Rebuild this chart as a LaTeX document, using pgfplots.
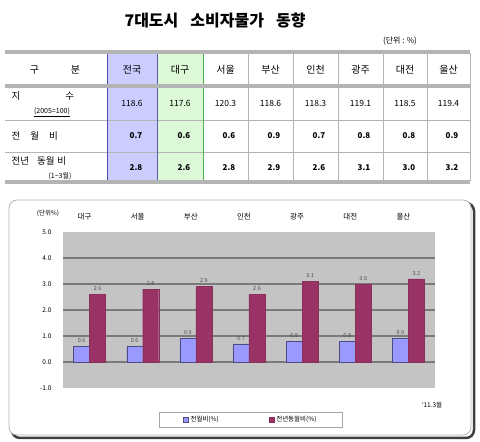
\documentclass[border=0pt]{standalone}
\usepackage{fontspec}
\setmainfont{Noto Sans CJK KR}
\usepackage{pgfplots}
\pgfplotsset{compat=1.18}
\definecolor{barblue}{HTML}{9999FF}
\definecolor{barred}{HTML}{993366}
\definecolor{plotbg}{HTML}{C4C4C4}
\definecolor{gridc}{HTML}{7A7A7A}
\definecolor{tblline}{HTML}{B4B4B4}
\definecolor{colblue}{HTML}{CCCCFF}
\definecolor{colgreen}{HTML}{DDF8D6}
\begin{document}
\begin{tikzpicture}
\path[use as bounding box] (0,0) rectangle (480pt,442pt);
\begin{scope}[x=1pt,y=-1pt,yshift=442pt]
 % title and unit
 \node[font=\bfseries\fontsize{16}{17}\selectfont] at (215,20) {7대도시\hspace{12pt}소비자물가\hspace{12pt}동향};
 \node[font=\fontsize{8}{9}\selectfont] at (400,41) {(단위 : \%)};
 % coloured columns
 \fill[colblue] (107,53) rectangle (157,181);
 \fill[colgreen] (157,53) rectangle (203,181);
 % vertical lines
 \foreach \x in {248,293,338,383,427}
   \draw[tblline, line width=0.8pt] (\x,53) -- (\x,181);
 \draw[tblline, line width=0.8pt] (470,53) -- (470,181);
 % horizontal lines
 \draw[tblline, line width=0.8pt] (5,120) -- (470,120);
 \draw[tblline, line width=0.8pt] (5,152) -- (470,152);
 \draw[gray!60!blue, line width=0.8pt] (107,53) -- (107,181);
 \draw[gray!70!blue, line width=0.8pt] (157,53) -- (157,181);
 \draw[gray!60!green, line width=0.8pt] (203,53) -- (203,181);
 \fill[tblline] (5,50) rectangle (470,54);
 \fill[tblline] (5,84) rectangle (470,88);
 \fill[tblline] (5,180) rectangle (470,184);
 % header
 \node[font=\fontsize{10}{11}\selectfont] at (55,70) {구\hspace{32pt}분};
 \foreach \x/\t in {132/전국,180/대구,225.5/서울,270.5/부산,315.5/인천,360.5/광주,405/대전,448.5/울산}
   \node[font=\fontsize{10}{11}\selectfont] at (\x,70) {\t};
 % row labels
 \node[font=\fontsize{9.5}{10}\selectfont, anchor=west] at (8,96) {지\hspace{45pt}수};
 \node[font=\fontsize{7}{8}\selectfont] at (52,112) {\underline{(2005=100)}};
 \node[font=\fontsize{9.5}{10}\selectfont, anchor=west] at (8,136) {전\hspace{10pt}월\hspace{10pt}비};
 \node[font=\fontsize{9.5}{10}\selectfont, anchor=west] at (8,161) {전년\hspace{8pt}동월\hspace{3pt}비};
 \node[font=\fontsize{7}{8}\selectfont] at (60,176) {(1{\char"7E}3월)};
 % values
 \foreach \x/\v in {132/118.6,180/117.6,225.5/120.3,270.5/118.6,315.5/118.3,360.5/119.1,405/118.5,448.5/119.4}
   \node[font=\fontsize{8.5}{9}\selectfont] at (\x,103) {\v};
 \foreach \x/\v in {136/0.7,184/0.6,229/0.6,274/0.9,319/0.7,364/0.8,409/0.8,452/0.9}
   \node[font=\bfseries\fontsize{8}{9}\selectfont] at (\x,136) {\v};
 \foreach \x/\v in {136/2.8,184/2.6,229/2.8,274/2.9,319/2.6,364/3.1,409/3.0,452/3.2}
   \node[font=\bfseries\fontsize{8}{9}\selectfont] at (\x,168) {\v};
 % chart frame
 \draw[rounded corners=8pt, line width=2.5pt, black!75] (12,203) rectangle (474,438);
 \draw[rounded corners=8pt, fill=white, draw=gray!60, line width=0.8pt] (9,200) rectangle (471,435);
 \node[font=\fontsize{6.5}{7}\selectfont] at (48,213) {(단위\%)};
 \node[font=\fontsize{6.5}{7}\selectfont] at (432,405) {'11.3월};
\end{scope}
\begin{axis}[
  at={(63pt,54pt)}, anchor=south west,
  scale only axis, width=372pt, height=156pt,
  xmin=-0.5, xmax=6.5, ymin=-1, ymax=5,
  axis background/.style={fill=plotbg},
  axis line style={draw=none},
  xtick style={draw=none},
  ytick style={draw=none},
  xtick={0,...,6},
  xticklabels={대구,서울,부산,인천,광주,대전,울산},
  xticklabel pos=right,
  xticklabel style={font=\fontsize{7.5}{8}\selectfont, yshift=4pt, xshift=-5pt},
  ytick={-1,0,...,5},
  yticklabel style={font=\fontsize{6.5}{7}\selectfont, xshift=-8pt},
  /pgf/number format/assume math mode=true,
  /pgf/number format/.cd, fixed, fixed zerofill, precision=1, /pgfplots/.cd,
  ybar=0pt, bar width=16pt,
  nodes near coords,
  nodes near coords style={font=\fontsize{5.5}{6}\selectfont, text=black!70,
     /pgf/number format/fixed, /pgf/number format/fixed zerofill, /pgf/number format/precision=1},
  legend style={at={(0.505,-0.205)}, anchor=center, legend columns=2,
     draw=gray!70, line width=1pt, font=\fontsize{6.5}{7}\selectfont,
     inner xsep=24pt, inner ysep=2pt,
     /tikz/every even column/.append style={column sep=48pt}},
  legend image code/.code={\fill[#1] (0pt,-2.5pt) rectangle (5pt,2.5pt);},
]
\draw[gridc, line width=1.8pt] (axis cs:-0.5,0) -- (axis cs:6.5,0);
\draw[gridc, line width=1.8pt] (axis cs:-0.5,1) -- (axis cs:6.5,1);
\draw[gridc, line width=1.8pt] (axis cs:-0.5,2) -- (axis cs:6.5,2);
\draw[gridc, line width=1.8pt] (axis cs:-0.5,3) -- (axis cs:6.5,3);
\draw[gridc, line width=1.8pt] (axis cs:-0.5,4) -- (axis cs:6.5,4);
\addplot[fill=barblue, draw=barblue!50!black, line width=0.4pt]
  coordinates {(0,0.6) (1,0.6) (2,0.9) (3,0.7) (4,0.8) (5,0.8) (6,0.9)};
\addplot[fill=barred, draw=barred!90!black, line width=0.4pt]
  coordinates {(0,2.6) (1,2.8) (2,2.9) (3,2.6) (4,3.1) (5,3.0) (6,3.2)};
\legend{전월비(\%),전년동월비(\%)}
\end{axis}
\end{tikzpicture}
\end{document}
